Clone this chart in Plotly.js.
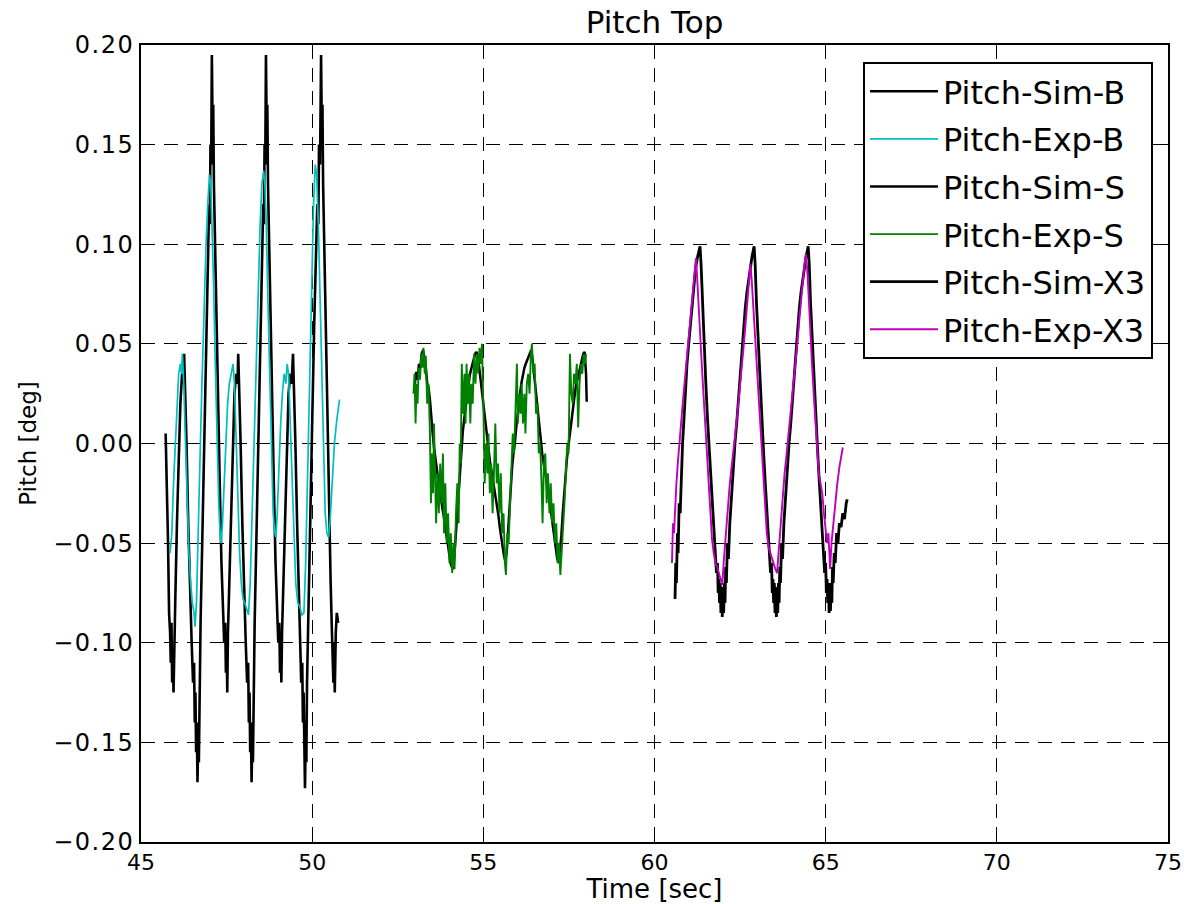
<!DOCTYPE html>
<html>
<head>
<meta charset="utf-8">
<script src="https://cdn.plot.ly/plotly-3.0.1.min.js"></script>
<style>
html,body{margin:0;padding:0;background:#fff;}
#chart{width:1184px;height:904px;}
#chart .ytick text{letter-spacing:1.5px;}
</style>
</head>
<body>
<div id="chart"></div>
<script>
// ---------- Series B ----------
const simB_t = [45.72,45.76,45.79,45.82,45.85,45.87,45.89,45.91,45.93,45.95,45.97,46.00,46.05,46.10,46.15,46.20,46.24,46.26,46.29,46.33,46.38,46.43,46.48,46.52,46.55,46.57,46.59,46.61,46.63,46.65,46.67,46.69,46.71,46.74,46.80,46.86,46.92,46.96,46.99,47.01,47.03,47.05,47.07,47.09,47.11,47.13,47.16,47.20,47.25,47.30,47.35,47.40,47.43,47.46,47.48,47.50,47.52,47.54,47.58,47.63,47.68,47.73,47.78,47.82,47.84,47.87,47.91,47.96,48.01,48.06,48.10,48.13,48.15,48.17,48.19,48.21,48.23,48.25,48.27,48.29,48.32,48.38,48.44,48.50,48.54,48.57,48.59,48.61,48.63,48.65,48.67,48.69,48.71,48.74,48.78,48.83,48.88,48.93,48.98,49.01,49.04,49.06,49.08,49.10,49.12,49.16,49.21,49.26,49.31,49.36,49.40,49.44,49.47,49.51,49.56,49.61,49.65,49.68,49.71,49.73,49.75,49.77,49.79,49.81,49.83,49.85,49.88,49.94,50.00,50.06,50.11,50.15,50.18,50.20,50.23,50.26,50.28,50.30,50.32,50.35,50.40,50.45,50.50,50.54,50.57,50.60,50.62,50.64,50.66,50.69,50.72,50.76];
const simB_y = [0.005,-0.02,-0.05,-0.085,-0.095,-0.11,-0.09,-0.12,-0.105,-0.125,-0.095,-0.08,-0.04,-0.005,0.02,0.035,0.03,0.045,0.03,0.0,-0.04,-0.075,-0.1,-0.12,-0.11,-0.14,-0.125,-0.155,-0.14,-0.17,-0.15,-0.16,-0.12,-0.09,-0.04,0.01,0.06,0.1,0.12,0.11,0.15,0.14,0.195,0.16,0.17,0.13,0.1,0.06,0.02,-0.02,-0.06,-0.08,-0.1,-0.09,-0.115,-0.1,-0.125,-0.095,-0.07,-0.03,0.0,0.025,0.035,0.03,0.045,0.03,0.0,-0.04,-0.075,-0.1,-0.12,-0.11,-0.14,-0.125,-0.155,-0.14,-0.17,-0.15,-0.16,-0.12,-0.09,-0.04,0.01,0.06,0.1,0.12,0.11,0.15,0.14,0.195,0.16,0.17,0.13,0.1,0.06,0.02,-0.02,-0.06,-0.08,-0.1,-0.09,-0.115,-0.1,-0.12,-0.095,-0.07,-0.03,0.0,0.025,0.035,0.03,0.045,0.03,0.0,-0.04,-0.075,-0.1,-0.12,-0.11,-0.14,-0.125,-0.155,-0.173,-0.15,-0.16,-0.12,-0.09,-0.04,0.01,0.06,0.1,0.12,0.11,0.15,0.14,0.195,0.16,0.17,0.13,0.1,0.05,0.01,-0.03,-0.07,-0.09,-0.105,-0.12,-0.1,-0.125,-0.095,-0.085,-0.09];

const expB_t = [45.85,45.90,45.95,46.00,46.05,46.10,46.15,46.18,46.21,46.25,46.30,46.35,46.40,46.45,46.50,46.55,46.58,46.62,46.67,46.72,46.78,46.84,46.90,46.95,47.00,47.04,47.08,47.12,47.17,47.22,47.27,47.31,47.34,47.38,47.43,47.48,47.53,47.58,47.63,47.69,47.73,47.78,47.83,47.88,47.93,47.98,48.03,48.08,48.14,48.19,48.24,48.30,48.36,48.42,48.48,48.53,48.58,48.62,48.66,48.71,48.76,48.81,48.86,48.91,48.94,48.98,49.03,49.08,49.13,49.18,49.23,49.27,49.31,49.36,49.41,49.46,49.52,49.58,49.64,49.70,49.76,49.81,49.86,49.92,49.98,50.04,50.09,50.13,50.18,50.23,50.28,50.33,50.38,50.43,50.48,50.52,50.58,50.65,50.72,50.80];
const expB_y = [-0.055,-0.045,-0.02,0.0,0.02,0.035,0.04,0.035,0.045,0.03,0.0,-0.03,-0.055,-0.07,-0.08,-0.085,-0.092,-0.08,-0.05,-0.01,0.03,0.07,0.1,0.12,0.135,0.13,0.11,0.08,0.04,0.0,-0.03,-0.045,-0.05,-0.04,-0.02,0.0,0.02,0.03,0.035,0.04,0.03,0.0,-0.03,-0.055,-0.07,-0.078,-0.08,-0.083,-0.086,-0.07,-0.04,0.0,0.04,0.08,0.11,0.13,0.137,0.13,0.11,0.07,0.03,-0.01,-0.035,-0.045,-0.047,-0.035,-0.01,0.01,0.025,0.035,0.03,0.04,0.035,0.01,-0.02,-0.05,-0.07,-0.08,-0.082,-0.086,-0.085,-0.06,-0.02,0.03,0.08,0.12,0.14,0.135,0.11,0.07,0.03,-0.01,-0.035,-0.045,-0.047,-0.04,-0.02,0.0,0.012,0.022];

// ---------- Series S ----------
const simS_t = [53.00,53.04,53.08,53.12,53.16,53.20,53.24,53.28,53.32,53.36,53.40,53.44,53.48,53.52,53.56,53.60,53.64,53.68,53.72,53.76,53.80,53.84,53.88,53.92,53.96,54.00,54.04,54.08,54.12,54.16,54.20,54.24,54.28,54.32,54.36,54.40,54.44,54.48,54.52,54.56,54.60,54.64,54.68,54.72,54.76,54.80,54.84,54.88,54.92,54.96,55.00,55.04,55.08,55.12,55.16,55.20,55.24,55.28,55.32,55.36,55.40,55.44,55.48,55.52,55.56,55.60,55.64,55.68,55.72,55.76,55.80,55.84,55.88,55.92,55.96,56.00,56.04,56.08,56.12,56.16,56.20,56.24,56.28,56.32,56.36,56.40,56.44,56.48,56.52,56.56,56.60,56.64,56.68,56.72,56.76,56.80,56.84,56.88,56.92,56.96,57.00,57.04,57.08,57.12,57.16,57.20,57.24,57.28,57.32,57.36,57.40,57.44,57.48,57.52,57.56,57.60,57.64,57.68,57.72,57.76,57.80,57.84,57.88,57.92,57.96,58.00,58.02];
const simS_y = [0.03,0.036,0.032,0.04,0.038,0.045,0.047,0.043,0.038,0.03,0.028,0.022,0.012,0.005,-0.002,-0.008,-0.012,-0.018,-0.022,-0.028,-0.032,-0.036,-0.042,-0.046,-0.05,-0.055,-0.06,-0.062,-0.063,-0.055,-0.045,-0.032,-0.02,-0.01,-0.002,0.006,0.012,0.018,0.025,0.03,0.034,0.037,0.04,0.043,0.045,0.046,0.044,0.038,0.032,0.025,0.018,0.012,0.007,0.0,-0.005,-0.01,-0.014,-0.018,-0.023,-0.028,-0.032,-0.036,-0.042,-0.047,-0.052,-0.056,-0.059,-0.055,-0.045,-0.032,-0.022,-0.012,-0.005,0.0,0.008,0.015,0.02,0.026,0.031,0.035,0.038,0.04,0.042,0.044,0.045,0.047,0.042,0.035,0.028,0.021,0.013,0.007,0.001,-0.005,-0.01,-0.015,-0.018,-0.022,-0.027,-0.032,-0.037,-0.042,-0.048,-0.053,-0.058,-0.06,-0.054,-0.046,-0.035,-0.025,-0.015,-0.008,-0.002,0.004,0.008,0.014,0.02,0.026,0.03,0.033,0.036,0.04,0.043,0.045,0.046,0.035,0.021];

const expS_t = [52.96,52.99,53.02,53.05,53.08,53.11,53.15,53.19,53.22,53.25,53.29,53.32,53.36,53.40,53.44,53.47,53.50,53.53,53.56,53.59,53.62,53.66,53.70,53.74,53.78,53.82,53.85,53.89,53.93,53.97,54.01,54.05,54.09,54.13,54.16,54.20,54.24,54.28,54.31,54.34,54.37,54.41,54.45,54.48,54.51,54.55,54.58,54.62,54.65,54.69,54.73,54.77,54.81,54.85,54.89,54.93,54.96,55.00,55.04,55.08,55.12,55.15,55.19,55.23,55.27,55.31,55.35,55.39,55.43,55.47,55.51,55.55,55.59,55.63,55.66,55.70,55.74,55.78,55.82,55.86,55.90,55.94,55.98,56.01,56.05,56.09,56.12,56.16,56.20,56.23,56.27,56.31,56.35,56.39,56.42,56.46,56.50,56.54,56.58,56.62,56.66,56.70,56.73,56.77,56.81,56.85,56.89,56.93,56.97,57.01,57.05,57.09,57.13,57.17,57.21,57.25,57.29,57.33,57.37,57.41,57.45,57.49,57.53,57.57,57.61,57.65,57.69,57.73,57.77,57.81,57.85,57.89,57.93,57.97,58.00];
const expS_y = [0.025,0.035,0.01,0.03,0.02,0.038,0.032,0.045,0.038,0.048,0.035,0.044,0.02,0.03,0.005,-0.03,-0.005,-0.025,0.01,-0.02,-0.04,-0.015,-0.035,-0.01,-0.03,-0.005,-0.045,-0.02,-0.05,-0.035,-0.06,-0.045,-0.065,-0.05,-0.063,-0.035,-0.02,-0.04,0.0,-0.01,0.04,0.015,0.035,0.01,0.04,0.02,0.035,0.01,0.03,0.02,0.045,0.03,0.045,0.035,0.048,0.04,0.05,0.02,-0.02,0.0,-0.015,0.005,-0.025,-0.01,-0.035,-0.015,0.01,-0.02,-0.01,-0.035,-0.015,-0.045,-0.035,-0.06,-0.066,-0.045,-0.05,-0.03,-0.015,0.005,-0.005,0.02,0.04,0.01,0.025,0.015,0.03,0.01,0.025,0.005,0.03,0.035,0.025,0.045,0.05,0.035,0.04,0.015,0.02,-0.005,0.0,-0.02,-0.04,-0.01,-0.005,-0.03,-0.015,-0.035,-0.02,-0.04,-0.03,-0.05,-0.04,-0.06,-0.05,-0.066,-0.055,-0.04,-0.03,-0.015,0.0,-0.005,0.045,0.025,0.02,0.035,0.03,0.04,0.008,0.03,0.04,0.035,0.045,0.04,0.045];

// ---------- Series X3 ----------
const simX3_t = [60.60,60.62,60.64,60.67,60.69,60.72,60.75,60.78,60.82,60.86,60.90,60.95,61.00,61.05,61.10,61.15,61.20,61.25,61.30,61.33,61.36,61.40,61.45,61.50,61.55,61.60,61.65,61.70,61.74,61.78,61.81,61.84,61.86,61.88,61.90,61.92,61.94,61.96,61.98,62.00,62.02,62.04,62.06,62.08,62.10,62.13,62.16,62.20,62.25,62.30,62.35,62.40,62.45,62.50,62.55,62.60,62.65,62.70,62.75,62.80,62.85,62.91,62.94,62.98,63.03,63.08,63.13,63.18,63.23,63.28,63.32,63.36,63.39,63.42,63.44,63.46,63.48,63.50,63.52,63.54,63.56,63.58,63.60,63.62,63.64,63.66,63.68,63.71,63.74,63.78,63.83,63.88,63.93,63.98,64.03,64.08,64.13,64.18,64.23,64.28,64.33,64.38,64.43,64.49,64.52,64.56,64.61,64.66,64.71,64.76,64.81,64.86,64.90,64.94,64.97,65.00,65.02,65.04,65.06,65.08,65.10,65.12,65.14,65.16,65.18,65.20,65.22,65.25,65.28,65.32,65.36,65.40,65.45,65.50,65.55,65.60,65.63];
const simX3_y = [-0.078,-0.06,-0.07,-0.045,-0.055,-0.03,-0.035,-0.015,0.0,0.012,0.025,0.04,0.05,0.06,0.07,0.08,0.088,0.093,0.097,0.099,0.09,0.07,0.05,0.03,0.012,-0.002,-0.018,-0.032,-0.045,-0.055,-0.065,-0.06,-0.075,-0.068,-0.08,-0.07,-0.085,-0.072,-0.087,-0.075,-0.085,-0.07,-0.08,-0.062,-0.07,-0.05,-0.058,-0.04,-0.025,-0.012,0.0,0.01,0.022,0.035,0.047,0.058,0.068,0.076,0.083,0.089,0.094,0.099,0.09,0.07,0.05,0.03,0.012,-0.002,-0.018,-0.032,-0.045,-0.055,-0.065,-0.06,-0.075,-0.068,-0.08,-0.07,-0.085,-0.072,-0.087,-0.075,-0.085,-0.07,-0.08,-0.062,-0.07,-0.05,-0.058,-0.04,-0.025,-0.012,0.0,0.01,0.022,0.035,0.047,0.058,0.068,0.076,0.083,0.089,0.094,0.099,0.09,0.07,0.05,0.03,0.012,-0.002,-0.018,-0.032,-0.045,-0.055,-0.065,-0.06,-0.075,-0.068,-0.08,-0.07,-0.085,-0.072,-0.084,-0.07,-0.08,-0.062,-0.07,-0.055,-0.06,-0.045,-0.05,-0.04,-0.042,-0.035,-0.038,-0.03,-0.028];

const expX3_t = [60.51,60.54,60.57,60.60,60.64,60.68,60.72,60.76,60.80,60.85,60.90,60.95,61.00,61.05,61.10,61.14,61.18,61.21,61.24,61.28,61.33,61.38,61.43,61.48,61.53,61.58,61.63,61.68,61.73,61.78,61.83,61.88,61.93,61.98,62.02,62.06,62.10,62.15,62.20,62.25,62.30,62.36,62.42,62.48,62.54,62.60,62.66,62.72,62.77,62.80,62.84,62.88,62.93,62.98,63.03,63.08,63.13,63.18,63.23,63.28,63.33,63.38,63.43,63.48,63.53,63.58,63.62,63.66,63.70,63.75,63.80,63.86,63.92,63.98,64.04,64.10,64.16,64.22,64.28,64.33,64.38,64.42,64.46,64.50,64.55,64.60,64.65,64.70,64.75,64.80,64.85,64.90,64.95,65.00,65.04,65.08,65.13,65.17,65.22,65.28,65.34,65.40,65.46,65.50];
const expX3_y = [-0.06,-0.04,-0.045,-0.03,-0.02,-0.01,0.0,0.008,0.015,0.025,0.035,0.045,0.055,0.065,0.075,0.082,0.09,0.093,0.085,0.07,0.055,0.04,0.025,0.01,-0.005,-0.02,-0.035,-0.048,-0.055,-0.06,-0.062,-0.065,-0.068,-0.071,-0.06,-0.05,-0.04,-0.03,-0.02,-0.012,-0.005,0.005,0.015,0.025,0.035,0.048,0.06,0.075,0.085,0.09,0.082,0.07,0.055,0.04,0.025,0.01,-0.005,-0.02,-0.035,-0.045,-0.052,-0.055,-0.058,-0.06,-0.063,-0.065,-0.055,-0.045,-0.035,-0.025,-0.015,-0.005,0.005,0.015,0.025,0.035,0.048,0.06,0.072,0.083,0.09,0.095,0.088,0.075,0.055,0.04,0.025,0.01,-0.005,-0.015,-0.02,-0.025,-0.035,-0.045,-0.05,-0.045,-0.063,-0.05,-0.04,-0.03,-0.02,-0.012,-0.005,-0.002];

const seriesNames = ['Pitch-Sim-B','Pitch-Exp-B','Pitch-Sim-S','Pitch-Exp-S','Pitch-Sim-X3','Pitch-Exp-X3'];
const xTicks = [45,50,55,60,65,70,75];
const yTicks = [-0.20,-0.15,-0.10,-0.05,0.00,0.05,0.10,0.15,0.20];

const colors = ['#000000','#00BFBF','#000000','#008000','#000000','#BF00BF'];
const widths = [2.6,1.7,2.5,1.9,2.8,1.9];
const xs = [simB_t,expB_t,simS_t,expS_t,simX3_t,expX3_t];
const ys = [simB_y,expB_y,simS_y,expS_y,simX3_y,expX3_y];

const traces = seriesNames.map((n,i)=>({
  type:'scatter', mode:'lines', name:n, x:xs[i], y:ys[i],
  legendgroup:'g'+i,
  line:{color:colors[i], width:widths[i]}
}));

const font = 'DejaVu Sans, sans-serif';
const axisCommon = {
  showline:true, linecolor:'#000', linewidth:2, mirror:'ticks',
  ticks:'inside', ticklen:8, tickwidth:1, tickcolor:'#000',
  showgrid:true, gridcolor:'#000', gridwidth:1, griddash:'14px,9px',
  zeroline:false
};

const layout = {
  width:1184, height:904,
  paper_bgcolor:'#fff', plot_bgcolor:'#fff',
  margin:{l:141, r:16, t:45, b:62},
  showlegend:true,
  title:{text:'Pitch Top', font:{family:font, size:31, color:'#000'}, x:0.5, xref:'paper', y:0.975, yref:'container', yanchor:'middle'},
  xaxis:Object.assign({}, axisCommon, {
    range:[45,75], tickvals:xTicks, ticktext:xTicks.map(String),
    tickfont:{family:font, size:22, color:'#000'},
    title:{text:'Time [sec]', font:{family:font, size:26, color:'#000'}, standoff:9}
  }),
  yaxis:Object.assign({}, axisCommon, {
    range:[-0.2,0.2], tickvals:yTicks, tickformat:'.2f',
    tickfont:{family:font, size:24, color:'#000'},
    title:{text:'Pitch [deg]', font:{family:font, size:23, color:'#000'}, standoff:18}
  }),
  legend:{
    x:0.9854, xanchor:'right', y:0.9787, yanchor:'top',
    bgcolor:'#fff', bordercolor:'#000', borderwidth:2,
    font:{family:font, size:32, color:'#000'},
    traceorder:'grouped', tracegroupgap:3, itemwidth:68
  }
};

Plotly.newPlot('chart', traces, layout, {displayModeBar:false, staticPlot:true});
</script>
</body>
</html>
